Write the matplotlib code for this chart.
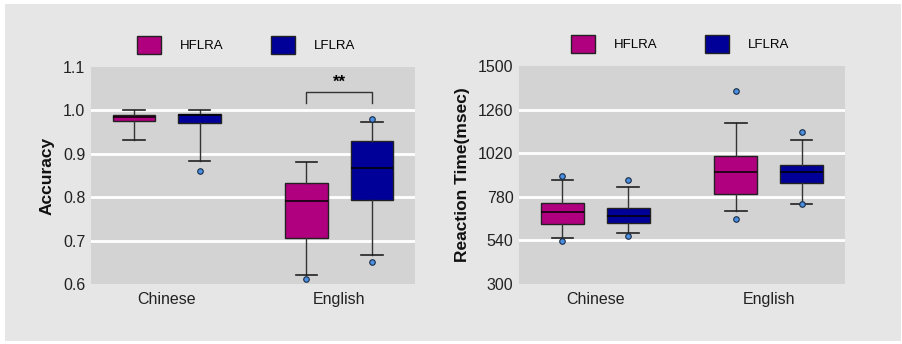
import matplotlib.pyplot as plt
from matplotlib.patches import Patch, Rectangle

plt.rcParams['font.family'] = ['Liberation Sans', 'DejaVu Sans']

groups = ['Chinese', 'English']
series = ['HFLRA', 'LFLRA']
colors = {'HFLRA': '#b0007f', 'LFLRA': '#000099'}

# five-number summaries + outliers: (whislo, q1, med, q3, whishi, fliers)
acc = {
    'HFLRA': [(0.931, 0.976, 0.985, 0.989, 1.0, []),
              (0.620, 0.706, 0.791, 0.833, 0.880, [0.612])],
    'LFLRA': [(0.883, 0.972, 0.990, 0.992, 1.0, [0.860]),
              (0.667, 0.793, 0.867, 0.929, 0.973, [0.651, 0.980])],
}
rt = {
    'HFLRA': [(553, 632, 696, 745, 872, [534, 895]),
              (703, 798, 915, 1007, 1185, [659, 1363])],
    'LFLRA': [(578, 637, 674, 721, 835, [564, 872]),
              (741, 855, 914, 956, 1095, [738, 1135])],
}

offset = 0.19
box_w = 0.248


def draw_boxes(ax, data):
    for k, s in enumerate(series):
        sgn = -1 if k == 0 else 1
        stats = []
        for lo, q1, med, q3, hi, fl in data[s]:
            stats.append(dict(whislo=lo, q1=q1, med=med, q3=q3, whishi=hi, fliers=fl))
        pos = [i + sgn * offset for i in range(len(groups))]
        ax.bxp(stats, positions=pos, widths=box_w, capwidths=box_w / 2,
               patch_artist=True, manage_ticks=False,
               boxprops=dict(facecolor=colors[s], edgecolor='#222222', linewidth=1),
               medianprops=dict(color='black', linewidth=1.1),
               whiskerprops=dict(color='#333333', linewidth=1),
               capprops=dict(color='#222222', linewidth=1.2),
               flierprops=dict(marker='o', markersize=4, markerfacecolor='#4a90e2',
                               markeredgecolor='#1a2a44', markeredgewidth=0.8))


def style(ax, ylim, yticks, ylabel):
    ax.set_facecolor('#d3d3d3')
    for sp in ax.spines.values():
        sp.set_visible(False)
    ax.set_xlim(-0.44, 1.44)
    ax.set_ylim(*ylim)
    ax.set_yticks(yticks)
    ax.set_xticks(range(len(groups)))
    ax.set_xticklabels(groups, fontsize=11.5, color='#222222')
    ax.tick_params(axis='y', length=0, labelsize=11.5, colors='#222222', pad=4)
    ax.tick_params(axis='x', length=0, pad=6)
    ax.yaxis.grid(True, color='white', linewidth=2)
    ax.set_axisbelow(True)
    # no gridline on the top and bottom edges
    ticks = ax.yaxis.get_major_ticks()
    ticks[0].gridline.set_visible(False)
    ticks[-1].gridline.set_visible(False)
    ax.set_ylabel(ylabel, fontsize=12.5, fontweight='bold', color='#111111', labelpad=6)


fig = plt.figure(figsize=(9.03, 3.44), dpi=100, facecolor='white')
fig.patches.append(Rectangle((5 / 903, 3 / 344), 896 / 903, 337 / 344,
                             transform=fig.transFigure, facecolor='#e6e6e6',
                             edgecolor='none', zorder=-10))

ax1 = fig.add_axes([91 / 903, 1 - 284 / 344, 324 / 903, 217 / 344])
ax2 = fig.add_axes([519 / 903, 1 - 284 / 344, 326 / 903, 218 / 344])

draw_boxes(ax1, acc)
style(ax1, (0.6, 1.1), [0.6, 0.7, 0.8, 0.9, 1.0, 1.1], 'Accuracy')
ax1.yaxis.set_major_formatter(plt.FormatStrFormatter('%.1f'))

# significance bracket over the English pair
ax1.plot([1 - offset, 1 - offset, 1 + offset, 1 + offset],
         [1.018, 1.042, 1.042, 1.018], color='#333333', linewidth=1)
ax1.text(1, 1.064, '**', ha='center', va='center', fontsize=12, fontweight='bold')

draw_boxes(ax2, rt)
style(ax2, (300, 1500), [300, 540, 780, 1020, 1260, 1500], 'Reaction Time(msec)')

handles = [Patch(facecolor=colors[s], edgecolor='#222222', label=s) for s in series]
for x0, y0 in [(137, 45), (571, 44)]:
    fig.legend(handles=handles, loc='center left', ncol=2, frameon=False,
               bbox_to_anchor=(x0 / 903, 1 - y0 / 344), bbox_transform=fig.transFigure,
               borderpad=0, borderaxespad=0, fontsize=9.5, handlelength=1.85,
               handleheight=1.8, handletextpad=1.4, columnspacing=3.6)

fig.savefig('out.png', dpi=100, facecolor='white')
